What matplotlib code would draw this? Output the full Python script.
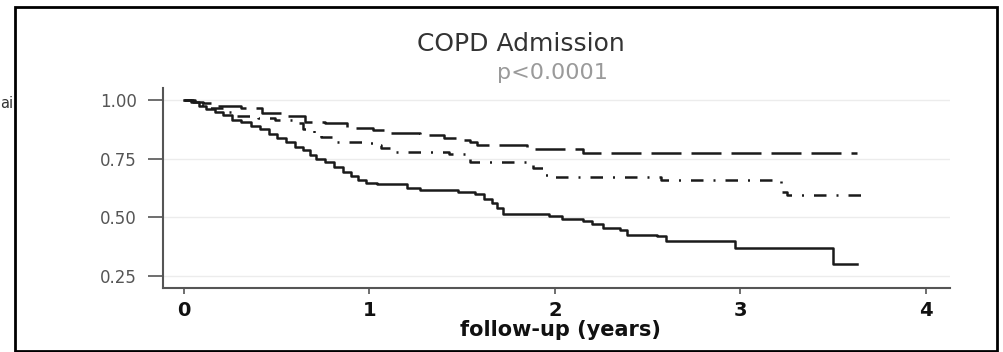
import matplotlib
matplotlib.use("Agg")
import matplotlib.pyplot as plt
from matplotlib.patches import Rectangle

plt.rcParams['font.family'] = ['DejaVu Sans']

# ---- data (Kaplan-Meier step curves) ----
solid_t = [0, 0.04, 0.08, 0.12, 0.17, 0.21, 0.26, 0.31, 0.36, 0.41, 0.46, 0.50, 0.55,
           0.60, 0.64, 0.68, 0.71, 0.76, 0.81, 0.86, 0.90, 0.94, 0.98, 1.04, 1.20, 1.27,
           1.48, 1.57, 1.62, 1.66, 1.69, 1.72, 1.97, 2.04, 2.15, 2.20, 2.26, 2.35, 2.39,
           2.55, 2.60, 2.97, 3.50, 3.63]
solid_s = [1.0, 0.99, 0.975, 0.962, 0.95, 0.935, 0.915, 0.905, 0.89, 0.875, 0.855, 0.84, 0.82,
           0.80, 0.785, 0.765, 0.75, 0.735, 0.715, 0.695, 0.675, 0.66, 0.645, 0.64, 0.625, 0.615,
           0.61, 0.60, 0.58, 0.56, 0.54, 0.515, 0.505, 0.495, 0.485, 0.47, 0.455, 0.445, 0.425,
           0.42, 0.40, 0.37, 0.30, 0.30]

dash_t = [0, 0.05, 0.10, 0.18, 0.31, 0.42, 0.56, 0.65, 0.76, 0.88, 1.02, 1.09, 1.27, 1.40,
          1.47, 1.54, 1.58, 1.85, 2.15, 3.63]
dash_s = [1.0, 0.99, 0.985, 0.975, 0.965, 0.945, 0.93, 0.905, 0.90, 0.88, 0.87, 0.86, 0.85, 0.84,
          0.83, 0.82, 0.808, 0.79, 0.775, 0.775]

dd_t = [0, 0.06, 0.13, 0.24, 0.27, 0.40, 0.49, 0.58, 0.64, 0.70, 0.74, 0.81, 0.96, 1.03, 1.06,
        1.13, 1.43, 1.54, 1.88, 1.94, 1.99, 2.57, 3.22, 3.25, 3.68]
dd_s = [1.0, 0.98, 0.965, 0.95, 0.93, 0.922, 0.915, 0.90, 0.876, 0.86, 0.842, 0.822, 0.815, 0.808, 0.795,
        0.778, 0.77, 0.735, 0.71, 0.68, 0.67, 0.658, 0.607, 0.594, 0.594]

y_ticks = [0.25, 0.50, 0.75, 1.00]
y_labels = ["0.25", "0.50", "0.75", "1.00"]
x_ticks = [0, 1, 2, 3, 4]
x_labels = ["0", "1", "2", "3", "4"]

title = "COPD Admission"
subtitle = "p<0.0001"
xlabel = "follow-up (years)"

# ---- figure ----
W, H = 1004, 352
fig = plt.figure(figsize=(W / 100, H / 100), dpi=100)
fig.patch.set_facecolor("white")

ax = fig.add_axes([163 / W, 1 - 288 / H, (950 - 163) / W, (288 - 88) / H])
ax.set_xlim(-0.113, 4.13)
ax.set_ylim(0.199, 1.051)

for yv in y_ticks:
    ax.axhline(yv, color="#ececec", lw=1.0, zorder=0)

lc = "#1a1a1a"
ax.plot(solid_t, solid_s, drawstyle="steps-post", color=lc, lw=1.8, zorder=3)
ax.plot(dash_t, dash_s, drawstyle="steps-post", color=lc, lw=1.8,
        linestyle=(0, (12, 4)), zorder=3)
ax.plot(dd_t, dd_s, drawstyle="steps-post", color=lc, lw=1.8,
        linestyle=(0, (5, 4, 0.8, 4)), zorder=3)

for s in ["top", "right"]:
    ax.spines[s].set_visible(False)
for s in ["left", "bottom"]:
    ax.spines[s].set_color("#555555")
    ax.spines[s].set_linewidth(1.5)

ax.set_yticks(y_ticks)
ax.set_yticklabels(y_labels, color="#555555", fontsize=12)
ax.tick_params(axis="y", length=11, width=1.2, color="#555555", pad=8)
ax.set_xticks(x_ticks)
ax.set_xticklabels(x_labels, fontsize=14, fontweight="bold", color="#111111")
ax.tick_params(axis="x", length=4.5, width=1.2, color="#555555", pad=4.5)
ax.set_xlabel(xlabel, fontsize=15, fontweight="bold", color="#111111")
ax.xaxis.set_label_coords((560 - 163) / 787, (288 - 320) / 200)

fig.text(521 / W, 1 - 51 / H, title, ha="center", va="baseline", fontsize=18, color="#333333")
fig.text(552 / W, 1 - 79 / H, subtitle, ha="center", va="baseline", fontsize=16, color="#9a9a9a")

# cropped text fragment at the left edge
fig.text(13 / W, 1 - 104 / H, "ai", ha="right", va="center", fontsize=10.5, color="#333333")

# outer border
fig.patches.append(Rectangle((15 / W, 1 - 351 / H), (997 - 15) / W, (351 - 7) / H,
                             transform=fig.transFigure, fill=False,
                             edgecolor="black", lw=2.0, zorder=10))

fig.savefig("out.png", dpi=100, facecolor="white")
